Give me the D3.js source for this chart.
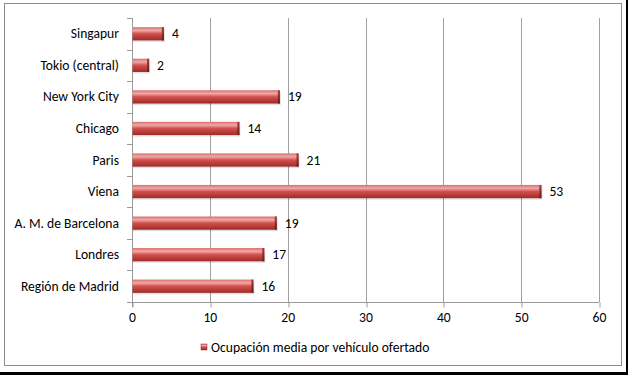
<!DOCTYPE html>
<html>
<head>
<meta charset="utf-8">
<script src="https://cdn.jsdelivr.net/npm/d3@7"></script>
<style>
  body { margin: 0; background: #fff; }
  svg { display: block; font-family: Carlito, Lato, "Liberation Sans", sans-serif; }
</style>
</head>
<body>
<svg id="chart" width="628" height="375"></svg>
<script>
// data
var ciudades = ["Singapur", "Tokio (central)", "New York City", "Chicago", "Paris",
                "Viena", "A. M. de Barcelona", "Londres", "Región de Madrid"];
var ocupacion = [4.1, 2.2, 19.0, 13.8, 21.4, 52.6, 18.6, 17.0, 15.6];
var xTicks = [0, 10, 20, 30, 40, 50, 60];
var serieNombre = "Ocupación media por vehículo ofertado";

var data = ciudades.map(function(c, i) { return {name: c, value: ocupacion[i]}; });
var fs = 13.6;

var svg = d3.select("#chart");

// outer frame + dark edge
svg.append("rect").attr("x", 4.5).attr("y", 3.5).attr("width", 617).attr("height", 362)
  .attr("fill", "#fff").attr("stroke", "#8c8c8c").attr("stroke-width", 1);
svg.append("rect").attr("x", 626).attr("y", 0).attr("width", 2).attr("height", 375).attr("fill", "#000");
svg.append("rect").attr("x", 0).attr("y", 372).attr("width", 628).attr("height", 3).attr("fill", "#000");

var defs = svg.append("defs");
var grad = defs.append("linearGradient").attr("id", "barGrad")
  .attr("x1", 0).attr("y1", 0).attr("x2", 0).attr("y2", 1);
grad.append("stop").attr("offset", "0%").attr("stop-color", "#d9706d");
grad.append("stop").attr("offset", "25%").attr("stop-color", "#f0a8a6");
grad.append("stop").attr("offset", "50%").attr("stop-color", "#d2504d");
grad.append("stop").attr("offset", "100%").attr("stop-color", "#9c2b29");

var capGrad = defs.append("linearGradient").attr("id", "capGrad")
  .attr("x1", 0).attr("y1", 0).attr("x2", 0).attr("y2", 1);
capGrad.append("stop").attr("offset", "0%").attr("stop-color", "#a83a38");
capGrad.append("stop").attr("offset", "100%").attr("stop-color", "#6e1a19");

var x = d3.scaleLinear().domain([0, 60]).range([132, 599]);
var y = d3.scaleBand().domain(ciudades).range([18, 302]).paddingInner(0.58).paddingOuter(0.29);

// gridlines
svg.append("g").selectAll("line").data(xTicks.slice(1)).join("line")
  .attr("x1", d => Math.round(x(d)) + 0.5).attr("x2", d => Math.round(x(d)) + 0.5)
  .attr("y1", 18).attr("y2", 302)
  .attr("stroke", "#a0a0a0").attr("stroke-width", 1);

// x axis
var xAxis = svg.append("g").attr("transform", "translate(0,302.5)")
  .call(d3.axisBottom(x).tickValues(xTicks).tickSize(5).tickSizeOuter(0).tickPadding(5));
xAxis.select(".domain").attr("stroke", "#9a9a9a").attr("d", "M127,0H" + x(60));
xAxis.selectAll(".tick line").attr("stroke", "#9a9a9a")
  .attr("transform", function(d) { return "translate(" + ((Math.round(x(d)) + 0.5) - x(d)) + ",0)"; });
xAxis.selectAll("text").attr("font-family", "Carlito, Lato, sans-serif").attr("font-size", fs).attr("fill", "#000");

// y axis with ticks at category boundaries
var bounds = d3.range(ciudades.length + 1).map(function(i) { return 18 + i * (284 / ciudades.length); });
var yAx = svg.append("g");
yAx.append("line").attr("x1", 132.5).attr("x2", 132.5).attr("y1", 18).attr("y2", 307)
  .attr("stroke", "#9a9a9a");
yAx.selectAll("line.t").data(bounds.slice(0, -1)).join("line").attr("class", "t")
  .attr("x1", 127).attr("x2", 132).attr("y1", d => Math.round(d) + 0.5).attr("y2", d => Math.round(d) + 0.5)
  .attr("stroke", "#9a9a9a");
yAx.selectAll("text").data(ciudades).join("text")
  .attr("x", 119).attr("y", d => y(d) + y.bandwidth() / 2)
  .attr("text-anchor", "end").attr("dominant-baseline", "central")
  .attr("font-size", fs).attr("fill", "#000").text(d => d);

// bars
var bars = svg.append("g").selectAll("g").data(data).join("g");
bars.append("rect").attr("x", x(0) + 1).attr("y", d => y(d.name) + 1.5)
  .attr("width", d => x(d.value) - x(0)).attr("height", y.bandwidth())
  .attr("fill", "#000").attr("opacity", 0.12);
bars.append("rect").attr("x", x(0) + 0.5).attr("y", d => y(d.name))
  .attr("width", d => x(d.value) - x(0) - 0.5).attr("height", y.bandwidth())
  .attr("fill", "url(#barGrad)");
bars.append("rect").attr("x", d => x(d.value) - 2).attr("y", d => y(d.name))
  .attr("width", 2).attr("height", y.bandwidth())
  .attr("fill", "url(#capGrad)");

// value labels
bars.append("text").attr("x", d => x(d.value) + 8).attr("y", d => y(d.name) + y.bandwidth() / 2)
  .attr("dominant-baseline", "central").attr("font-size", fs).attr("fill", "#000")
  .text(d => Math.round(d.value));

// legend
var leg = svg.append("g").attr("transform", "translate(201,344)");
leg.append("rect").attr("width", 6).attr("height", 6).attr("fill", "url(#barGrad)")
  .attr("stroke", "#9c2b29").attr("stroke-width", 0.5);
leg.append("text").attr("x", 10).attr("y", 3).attr("dominant-baseline", "central")
  .attr("font-size", fs).attr("fill", "#000").text(serieNombre);
</script>
</body>
</html>
